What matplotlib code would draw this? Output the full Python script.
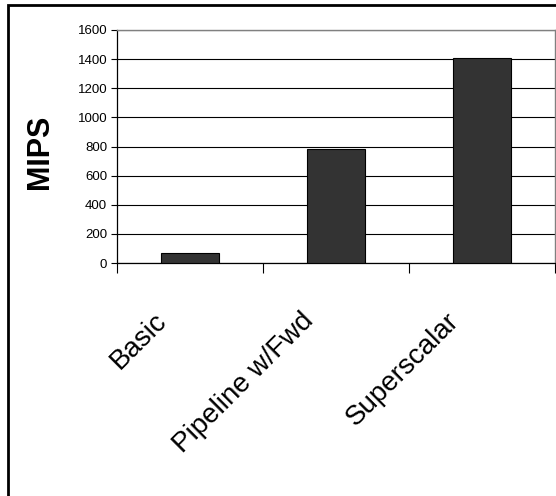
import matplotlib
matplotlib.use("Agg")
import matplotlib.pyplot as plt
import matplotlib.transforms as mtransforms
from matplotlib.patches import Rectangle

plt.rcParams['font.family'] = ['Liberation Sans', 'DejaVu Sans']

categories = ["Basic", "Pipeline w/Fwd", "Superscalar"]
mips = [66, 784, 1408]
y_ticks = [0, 200, 400, 600, 800, 1000, 1200, 1400, 1600]

W, H, DPI = 556, 496, 100
fig = plt.figure(figsize=(W / DPI, H / DPI), dpi=DPI)

# outer chart frame (continues past the right and bottom edges)
fig.patches.append(Rectangle((8 / W, -0.05), 1.1, 1 - 5 / H + 0.05,
                             transform=fig.transFigure, fill=False,
                             edgecolor='black', linewidth=2.0))

ax = fig.add_axes([117 / W, (H - 263) / H, (555 - 117) / W, 233 / H])

x = list(range(len(categories)))
ax.bar(x, mips, width=0.4, color='#333333', edgecolor='black',
       linewidth=0.8, zorder=3)

ax.set_xlim(-0.5, len(categories) - 0.5)
ax.set_ylim(0, 1600)
ax.set_yticks(y_ticks)
ax.set_yticklabels([str(v) for v in y_ticks], fontsize=9.5)
ax.tick_params(axis='y', length=4, width=0.8, pad=3, direction='out')

# tick marks at category boundaries, labels placed separately
ax.set_xticks([i - 0.5 for i in range(len(categories) + 1)])
ax.set_xticklabels([])
ax.tick_params(axis='x', length=7.5, width=0.8, direction='out')

ax.yaxis.grid(True, color='black', linewidth=0.8, zorder=0)
ax.set_axisbelow(True)

for s in ('left', 'bottom'):
    ax.spines[s].set_color('black')
    ax.spines[s].set_linewidth(0.9)
for s in ('top', 'right'):
    ax.spines[s].set_color('#808080')
    ax.spines[s].set_linewidth(1.0)

offset = mtransforms.ScaledTranslation(-36 / DPI, -45 / DPI, fig.dpi_scale_trans)
label_tr = ax.get_xaxis_transform() + offset
for i, name in enumerate(categories):
    ax.text(i, 0, name, transform=label_tr, rotation=45,
            rotation_mode='anchor', ha='right', va='top', fontsize=20)

fig.text(40 / W, 1 - 152 / H, "MIPS", rotation=90, ha='center', va='center',
         fontsize=22, fontweight='bold')

fig.savefig("out.png", dpi=DPI)
